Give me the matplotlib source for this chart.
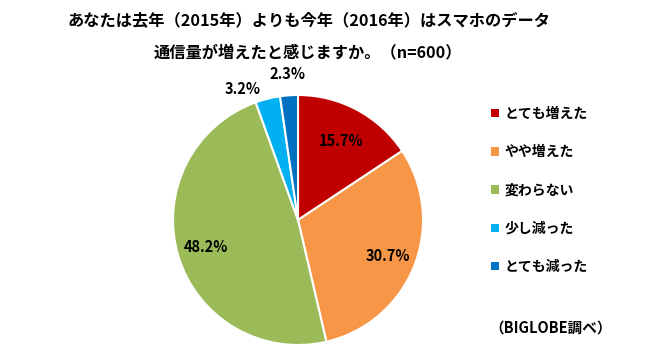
import numpy as np
import matplotlib
matplotlib.use('Agg')
import matplotlib.pyplot as plt
from matplotlib.patches import Patch

plt.rcParams['font.family'] = ['Noto Sans CJK JP', 'DejaVu Sans']

labels = ['とても増えた', 'やや増えた', '変わらない', '少し減った', 'とても減った']
values = [15.7, 30.7, 48.2, 3.2, 2.3]
colors = ['#C00000', '#F79646', '#9BBB59', '#00B0F0', '#0070C0']

W, H = 657, 357
fig = plt.figure(figsize=(W / 100, H / 100), dpi=100)

# pie axes: center (298, 220) px, radius 125 px
cx, cy, r = 298, 220, 125
ax = fig.add_axes([(cx - r) / W, (H - cy - r) / H, 2 * r / W, 2 * r / H])
wedges, _ = ax.pie(values, colors=colors, startangle=90, counterclock=False,
                   wedgeprops=dict(edgecolor='white', linewidth=1.5))
ax.set_xlim(-1, 1)
ax.set_ylim(-1, 1)
ax.set_aspect('equal')

# percentage labels: inside for big slices, outside for small ones
for i, w in enumerate(wedges):
    ang = np.deg2rad((w.theta1 + w.theta2) / 2)
    if values[i] > 10:
        d = 0.72 if i == 0 else 0.77
        x, y = d * np.cos(ang), d * np.sin(ang)
    elif i == 3:
        x, y = 1.08 * np.cos(ang) - 0.18, 1.08 * np.sin(ang)
    else:
        x, y = 1.17 * np.cos(ang), 1.17 * np.sin(ang)
    ax.text(x, y, f'{values[i]:.1f}%', ha='center', va='center',
            fontsize=10.5, fontweight='bold', color='black', clip_on=False)

fig.text(309 / W, 1 - 20 / H, 'あなたは去年（2015年）よりも今年（2016年）はスマホのデータ',
         ha='center', va='center', fontsize=11.7, fontweight='bold')
fig.text(308 / W, 1 - 52 / H, '通信量が増えたと感じますか。（n=600）',
         ha='center', va='center', fontsize=11.7, fontweight='bold')

handles = [Patch(facecolor=c, edgecolor='none') for c in colors]
fig.legend(handles, labels, loc='upper left', bbox_to_anchor=(484 / W, 1 - 100 / H),
           frameon=False, handlelength=0.55, handleheight=0.55,
           handletextpad=0.4, labelspacing=1.75, borderpad=0,
           prop=dict(weight='bold', size=10))

fig.text(551 / W, 1 - 328 / H, '（BIGLOBE調べ）', ha='center', va='center',
         fontsize=10.5, fontweight='bold')

fig.savefig('out.png', dpi=100)
